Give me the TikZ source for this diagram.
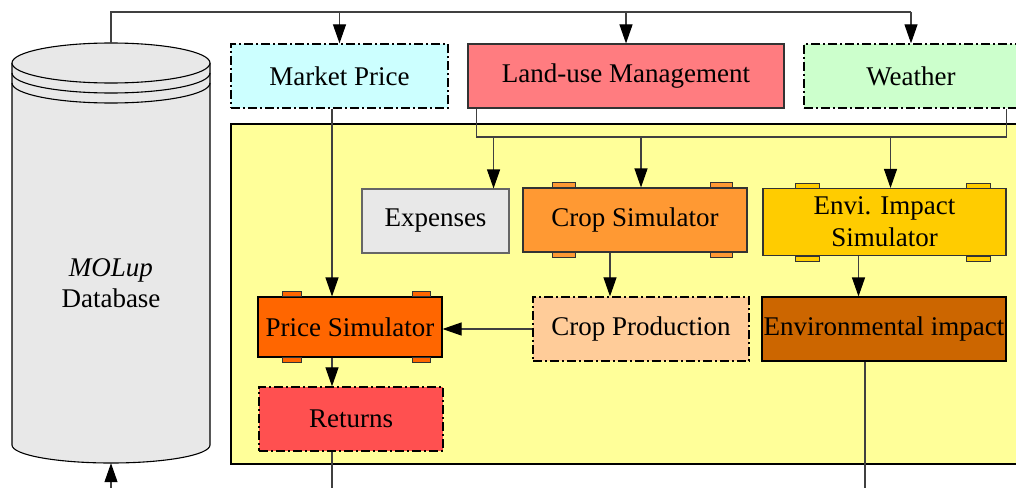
\documentclass[tikz,border=0pt]{standalone}
\usepackage{fontspec}
\setmainfont{Liberation Serif}
\usetikzlibrary{arrows.meta,calc}

\definecolor{mpcol}{HTML}{CCFFFF}
\definecolor{lumcol}{HTML}{FF7C80}
\definecolor{wxcol}{HTML}{CCFFCC}
\definecolor{modcol}{HTML}{FFFF99}
\definecolor{dbcol}{HTML}{E8E8E8}
\definecolor{cscol}{HTML}{FF9933}
\definecolor{cpcol}{HTML}{FFCC99}
\definecolor{eicol}{HTML}{FFCC00}
\definecolor{iecol}{HTML}{CC6600}
\definecolor{pscol}{HTML}{FF6600}
\definecolor{rtcol}{HTML}{FF5050}

% little tabs on top and bottom of a simulator box
\newcommand{\simtabs}[2]{%
  \foreach \a/\b in {0.135/0.235,0.835/0.935}{
    \filldraw[fill=#2, draw=black!80, line width=0.9pt]
      ($(#1.north west)!\a!(#1.north east)$) rectangle ($(#1.north west)!\b!(#1.north east)+(0,-5)$);
    \filldraw[fill=#2, draw=black!80, line width=0.9pt]
      ($(#1.south west)!\a!(#1.south east)$) rectangle ($(#1.south west)!\b!(#1.south east)+(0,5)$);
  }}

\begin{document}
\begin{tikzpicture}[x=1pt, y=-1pt,
  box/.style={draw=black!80, line width=1.1pt, inner sep=0pt, align=center,
    font=\fontsize{27}{32}\selectfont},
  dashbox/.style={box, draw=black, line width=1.3pt, dash pattern=on 9pt off 3pt on 2pt off 3pt},
  line/.style={draw=black!75, line width=1.1pt},
  arr/.style={line, -{Triangle[length=19pt, width=13pt, black]}}]
  \useasboundingbox (0,0) rectangle (1016,487);

  % model region
  \filldraw[fill=modcol, draw=black, line width=1.2pt] (231,124) rectangle (1040,464);

  % database cylinder
  \fill[dbcol] (12,63) -- (12,445) arc[start angle=180, end angle=0, x radius=99, y radius=18] -- (210,63) -- cycle;
  \draw[line width=1.1pt] (12,63) -- (12,445) arc[start angle=180, end angle=0, x radius=99, y radius=18] -- (210,63);
  \filldraw[fill=dbcol, line width=1.1pt] (111,63) ellipse[x radius=99, y radius=20];
  \draw[line width=1.1pt] (12,73) arc[start angle=180, end angle=0, x radius=99, y radius=20];
  \draw[line width=1.1pt] (12,83) arc[start angle=180, end angle=0, x radius=99, y radius=20];
  \node[minimum width=198pt, minimum height=420pt, inner sep=0pt] (db) at (111,253) {};
  \node[align=center, font=\fontsize{27}{31}\selectfont] (dbtext) at (111,283) {\textit{MOLup}\\Database};

  % inputs
  \node[dashbox, fill=mpcol, minimum width=217pt, minimum height=64pt] (mp) at (339.5,76) {Market Price};
  \node[box, fill=lumcol, minimum width=316pt, minimum height=64pt] (lum) at (626,76) {Land-use Management};
  \node[dashbox, fill=wxcol, minimum width=214pt, minimum height=64pt] (wx) at (911,76) {Weather};

  % simulators and outputs
  \node[box, draw=black!60, fill=dbcol, minimum width=147pt, minimum height=64pt] (ex) at (435.5,221) {Expenses};
  \node[box, fill=cscol, minimum width=224pt, minimum height=64pt] (cs) at (635,220) {Crop Simulator};
  \node[box, fill=eicol, minimum width=243pt, minimum height=67pt] (ei) at (884.5,222) {Envi. Impact\\Simulator};
  \node[dashbox, fill=cpcol, minimum width=216pt, minimum height=64pt] (cp) at (641,329) {Crop Production};
  \node[box, draw=black, fill=iecol, minimum width=244pt, minimum height=64pt] (ie) at (884,329) {Environmental impact};
  \node[box, draw=black, fill=pscol, minimum width=184pt, minimum height=60pt] (ps) at (350,327) {Price Simulator};
  \node[dashbox, fill=rtcol, minimum width=184pt, minimum height=64pt] (rt) at (351,419) {Returns};
  \simtabs{cs}{cscol}
  \simtabs{ei}{eicol}
  \simtabs{ps}{pscol}

  % connectors
  \coordinate (top) at (0,12);
  \coordinate (bus) at (0,137);
  \coordinate (low) at (0,495);
  \coordinate (lumd) at ([xshift=9pt]lum.south west);
  \coordinate (wxd) at ([xshift=-12pt]wx.south east);
  \coordinate (exu) at ([xshift=-16pt]ex.north east);
  \coordinate (csu) at ([xshift=6pt]cs.north);
  \coordinate (eiu) at ([xshift=6pt]ei.north);
  \coordinate (csd) at ([xshift=-25pt]cs.south);
  \coordinate (eid) at ([xshift=-26pt]ei.south);
  \coordinate (mpd) at ([xshift=-7.5pt]mp.south);
  \coordinate (psd) at ([xshift=-18pt]ps.south);
  \coordinate (rtd) at ([xshift=-19pt]rt.south);
  \coordinate (ied) at ([xshift=-19pt]ie.south);

  \draw[line] (db.north) |- (wx.north |- top);
  \foreach \n in {mp,lum,wx}
    \draw[arr] (\n.north |- top) -- (\n.north);
  \draw[line] (lumd) |- (wxd |- bus) -- (wxd);
  \draw[arr] (exu |- bus) -- (exu);
  \draw[arr] (csu |- bus) -- (csu);
  \draw[arr] (eiu |- bus) -- (eiu);
  \draw[arr] (csd) -- (csd |- cp.north);
  \draw[arr] (eid) -- (eid |- ie.north);
  \draw[arr] (mpd) -- (mpd |- ps.north);
  \draw[arr] (cp.west) -- (cp.west -| ps.east);
  \draw[arr] (psd) -- (psd |- rt.north);
  \draw[line] (rtd) -- (rtd |- low);
  \draw[line] (ied) -- (ied |- low);
  \draw[arr] (db.south |- low) -- (db.south);
\end{tikzpicture}
\end{document}
